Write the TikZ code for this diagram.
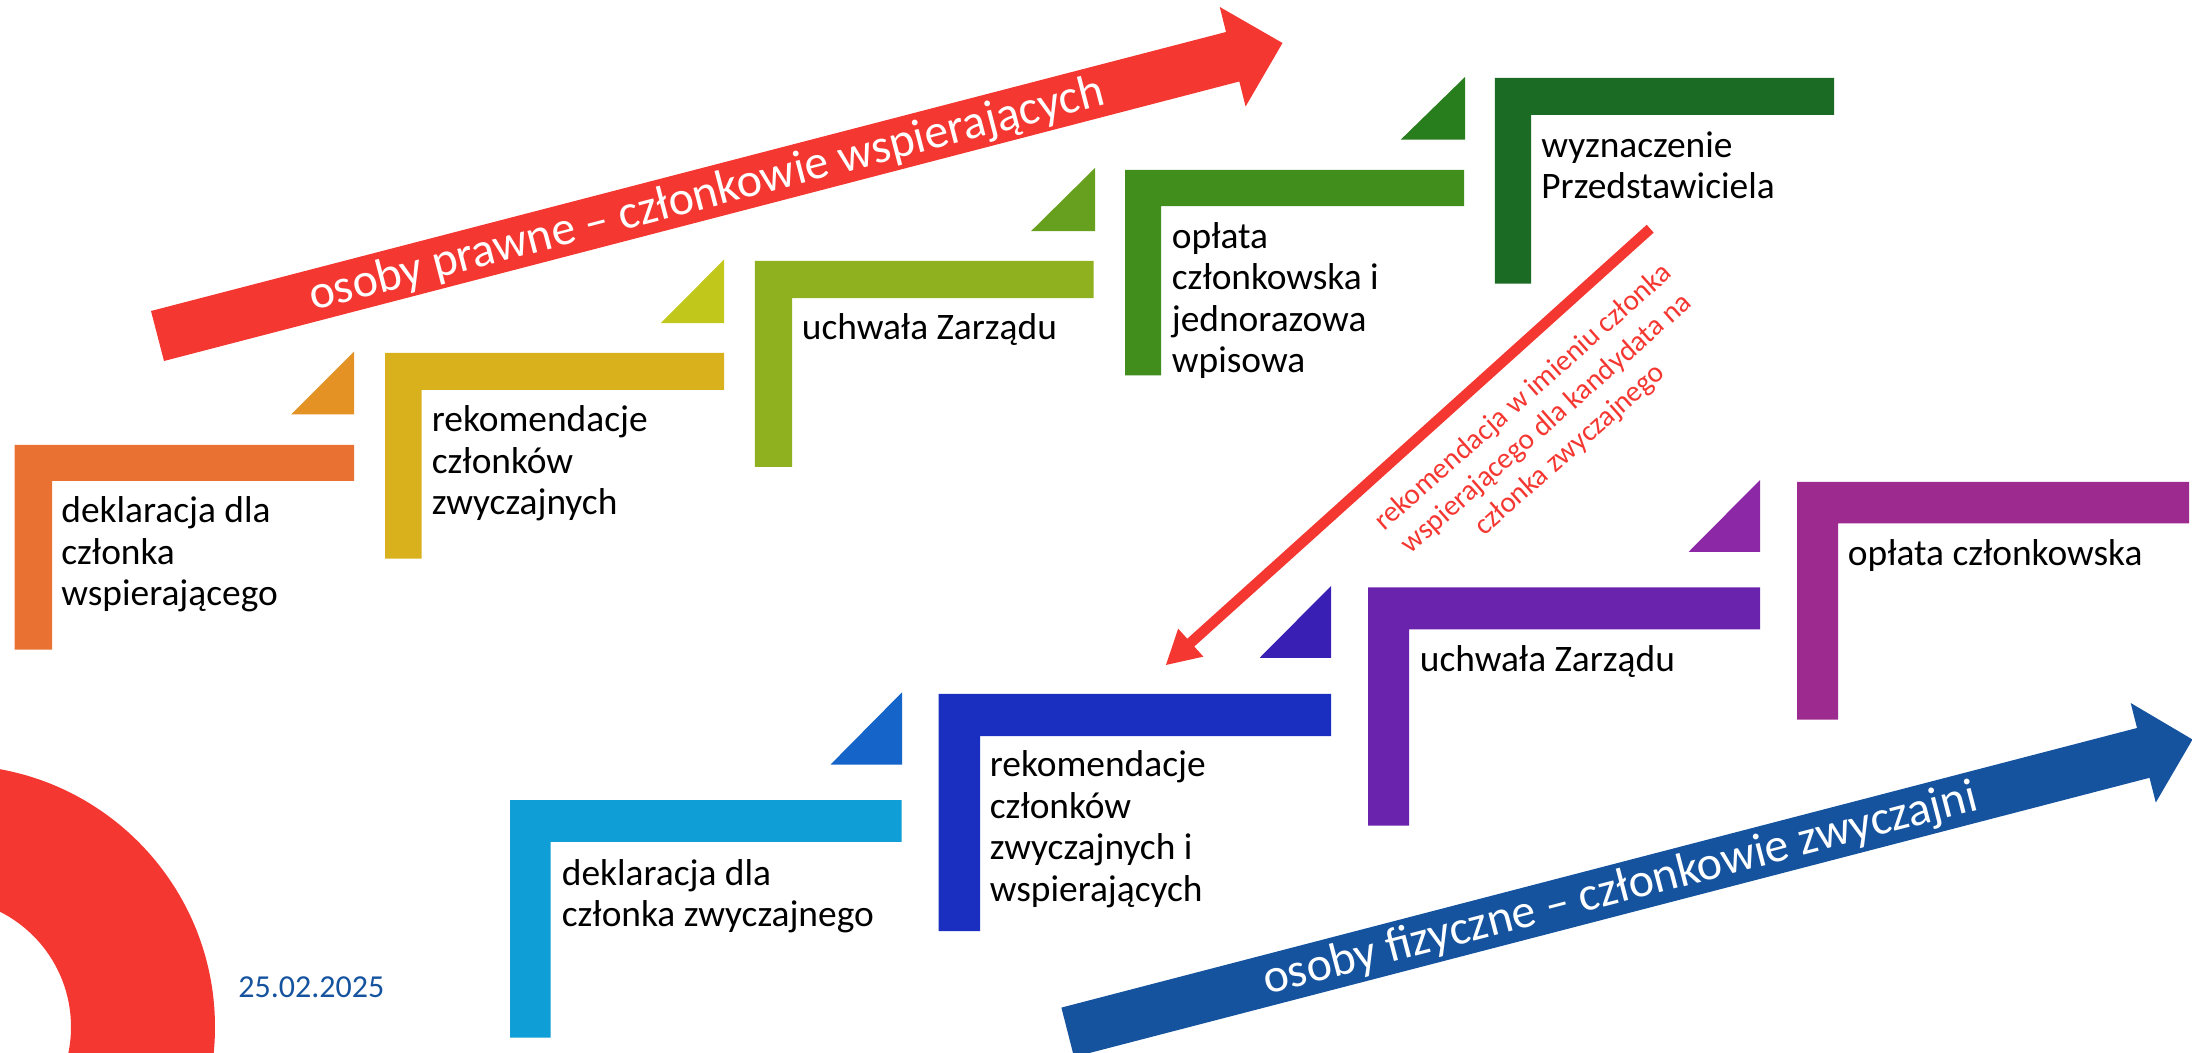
\documentclass[tikz,border=0pt]{standalone}
\usepackage{fontspec}
\setmainfont{Carlito}
\usetikzlibrary{arrows.meta}
\definecolor{cRed}{HTML}{F53732}
\definecolor{cBlue}{HTML}{15539F}
\definecolor{s1}{HTML}{E97132}
\definecolor{t1}{HTML}{E59225}
\definecolor{s2}{HTML}{D9B11D}
\definecolor{t2}{HTML}{C2C71B}
\definecolor{s3}{HTML}{90B11F}
\definecolor{t3}{HTML}{67A01E}
\definecolor{s4}{HTML}{418E1C}
\definecolor{t4}{HTML}{287D1C}
\definecolor{s5}{HTML}{1B6B25}
\definecolor{s6}{HTML}{0F9ED5}
\definecolor{t6}{HTML}{1464C9}
\definecolor{s7}{HTML}{1A2EC0}
\definecolor{t7}{HTML}{3A1FB5}
\definecolor{s8}{HTML}{6A23AD}
\definecolor{t8}{HTML}{8C27A5}
\definecolor{s9}{HTML}{9D2B8F}
\tikzset{
  stepshape/.style={fill=#1,draw=none},
  steplabel/.style={anchor=base west,inner sep=0pt,align=left,text=black,
    font=\fontsize{18.7pt}{20.7pt}\selectfont},
  bandlabel/.style={anchor=base west,inner sep=0pt,text=white,rotate=14.6,
    font=\fontsize{24pt}{28pt}\selectfont},
  recomlabel/.style={inner sep=0pt,align=center,text=cRed,rotate=41.5,
    font=\fontsize{14.6pt}{17.5pt}\selectfont},
}
\newcommand{\stairshape}[7]{% colour, left, top, right, barbottom, inner, bottom
  \fill[stepshape=#1] (#2,#3) -- (#4,#3) -- (#4,#5) -- (#6,#5) -- (#6,#7) -- (#2,#7) -- cycle;}
\newcommand{\wedgeshape}[5]{% colour, apex x, apex y, left x, bottom y
  \fill[stepshape=#1] (#2,#3) -- (#2,#5) -- (#4,#5) -- cycle;}
\begin{document}
\begin{tikzpicture}[x=0.5pt,y=-0.5pt]
\useasboundingbox (0,0) rectangle (2192,1053);
\clip (0,0) rectangle (2192,1053);
% ring
\fill[cRed,even odd rule] (-47,1027) circle[radius=262] (-58,1027) circle[radius=129];
% band arrows
\fill[cRed] (151,311) -- (1226,32) -- (1219.8,7) -- (1282.5,43) -- (1245.6,106.5) -- (1239.3,81.5) -- (164,361) -- cycle;
\fill[cBlue] (1061.4,1007.6) -- (2137,728) -- (2130.7,703) -- (2192.5,739.5) -- (2155.8,802.5) -- (2149.5,777.8) -- (1074,1057) -- cycle;
% stairs
\wedgeshape{t1}{354}{351.6}{291}{414.5}
\stairshape{s1}{14.7}{445}{354}{481}{52}{649.7}
\wedgeshape{t2}{724}{259.6}{660.8}{323.2}
\stairshape{s2}{385}{352.8}{724}{389.8}{421.6}{558.7}
\wedgeshape{t3}{1095}{168}{1031}{231.2}
\stairshape{s3}{754.8}{260.8}{1093.6}{298.2}{792}{466.9}
\wedgeshape{t4}{1465}{77}{1400.8}{139.6}
\stairshape{s4}{1125}{170}{1464}{206.2}{1161}{375.3}
\stairshape{s5}{1494.9}{78}{1834}{115}{1531}{283.6}
\stairshape{s6}{510}{800}{901.5}{841.9}{550.7}{1037.7}
\wedgeshape{t6}{902}{692.3}{830.6}{764.5}
\stairshape{s7}{938.6}{693.8}{1331}{736}{980}{931}
\wedgeshape{t7}{1331}{586}{1259.5}{658}
\stairshape{s8}{1368}{587.5}{1760}{629.5}{1409}{825.5}
\wedgeshape{t8}{1760}{480}{1688.5}{552}
\stairshape{s9}{1797}{482}{2189}{523.5}{1838}{719.5}
% recommendation connector
\coordinate (recFrom) at (1650.2,228.7);
\coordinate (recTo) at (1165.5,665.4);
\draw[cRed,line width=5.25pt,-{Triangle[length=17pt,width=17.5pt]}] (recFrom) -- (recTo);
% labels (the base of a multi-line node is its last line)
\node[steplabel] (lab1) at (61,605.5) {deklaracja dla\\członka\\wspierającego};
\node[steplabel] (lab2) at (431.5,514.5) {rekomendacje\\członków\\zwyczajnych};
\node[steplabel] (lab3) at (801.5,339.5) {uchwała Zarządu};
\node[steplabel] (lab4) at (1171.5,372.5) {opłata\\członkowska i\\jednorazowa\\wpisowa};
\node[steplabel] (lab5) at (1541,199) {wyznaczenie\\Przedstawiciela};
\node[steplabel] (lab6) at (561.5,926.5) {deklaracja dla\\członka zwyczajnego};
\node[steplabel] (lab7) at (989.5,901) {rekomendacje\\członków\\zwyczajnych i\\wspierających};
\node[steplabel] (lab8) at (1419.5,671.5) {uchwała Zarządu};
\node[steplabel] (lab9) at (1847.5,565.5) {opłata członkowska};
\node[bandlabel] (bandA) at (313,311) {osoby prawne – członkowie wspierających};
\node[bandlabel] (bandB) at (1267,995) {osoby fizyczne – członkowie zwyczajni};
\node[recomlabel] (recom) at (1547,424) {rekomendacja w imieniu członka\\wspierającego dla kandydata na\\członka zwyczajnego};
\node[anchor=base west,inner sep=0pt,text=cBlue,font=\fontsize{16pt}{19pt}\selectfont] (date) at (238,997) {25.02.2025};
\end{tikzpicture}
\end{document}
